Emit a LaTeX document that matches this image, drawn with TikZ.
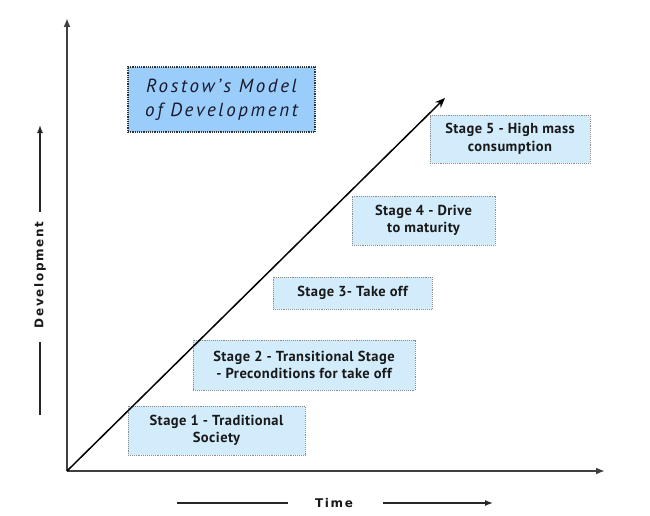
\documentclass[tikz,border=0pt]{standalone}
\usepackage{fontspec}
\setmainfont{PT Sans}
\newfontfamily\stagefont[LetterSpace=3]{PT Sans}
\newfontfamily\titlefont[LetterSpace=14]{PT Sans}
\newfontfamily\axisfont[LetterSpace=14]{DejaVu Sans}
\usetikzlibrary{arrows.meta}
\definecolor{stagefill}{RGB}{210,236,252}
\definecolor{titlefill}{RGB}{155,205,250}
\definecolor{axisgray}{RGB}{64,64,64}
\definecolor{titletext}{RGB}{25,25,45}
\tikzset{
  stagebox/.style={draw=black!45, densely dotted, line width=0.9pt, fill=stagefill,
    align=center, inner sep=0pt, font=\stagefont\bfseries\fontsize{14.5}{17.5}\selectfont, text=black!90},
  titlebox/.style={draw=black!80, densely dotted, line width=1.2pt, fill=titlefill,
    align=center, inner sep=0pt, font=\titlefont\itshape\fontsize{19}{24}\selectfont, text=titletext},
  axisline/.style={draw=axisgray, line width=2pt},
  axistip/.style={-{Latex[length=9pt,width=7pt]}},
  labelline/.style={draw=black!85, line width=1.4pt},
  labelfont/.style={font=\axisfont\bfseries\fontsize{12}{14}\selectfont, text=black!90}
}
\begin{document}
\begin{tikzpicture}[x=1pt,y=-1pt]
\useasboundingbox (0,0) rectangle (650,516);
% axes
\coordinate (O) at (67,471);
\coordinate (ytop) at (67,18);
\coordinate (xend) at (605,471);
\coordinate (dend) at (445,98);
\draw[axisline, axistip] (O) -- (ytop);
\draw[axisline, axistip] (O) -- (xend);
% boxes
\node[titlebox, minimum width=187pt, minimum height=65pt] (title) at (221.5,99.5) {Rostow’s Model\\of Development};
\node[stagebox, minimum width=177pt, minimum height=49pt] (s1) at (216.5,430.5) {Stage 1 - Traditional\\Society};
\node[stagebox, minimum width=222pt, minimum height=50pt] (s2) at (304,365) {Stage 2 - Transitional Stage\\- Preconditions for take off};
\node[stagebox, minimum width=159pt, minimum height=32pt] (s3) at (352.5,293) {Stage 3- Take off};
\node[stagebox, minimum width=143pt, minimum height=49pt] (s4) at (423.5,220.5) {Stage 4 - Drive\\to maturity};
\node[stagebox, minimum width=160pt, minimum height=48pt] (s5) at (510,139) {Stage 5 - High mass\\consumption};
% diagonal
\draw[black, line width=1.5pt, -{Stealth[length=10pt,width=8pt]}] (O) -- (dend);
% time label
\node[labelfont] (time) at (334,503) {Time};
\coordinate (t1) at (177,503);
\coordinate (t2) at (288,503);
\coordinate (t3) at (383,503);
\coordinate (t4) at (493,503);
\draw[labelline] (t1) -- (t2);
\draw[labelline, -{Latex[length=8pt,width=6pt]}] (t3) -- (t4);
% development label
\node[labelfont, rotate=90] (dev) at (40,275) {Development};
\coordinate (d1) at (40,415);
\coordinate (d2) at (40,342);
\coordinate (d3) at (40,212);
\coordinate (d4) at (40,125);
\draw[labelline] (d1) -- (d2);
\draw[labelline, -{Latex[length=8pt,width=6pt]}] (d3) -- (d4);
\end{tikzpicture}
\end{document}
